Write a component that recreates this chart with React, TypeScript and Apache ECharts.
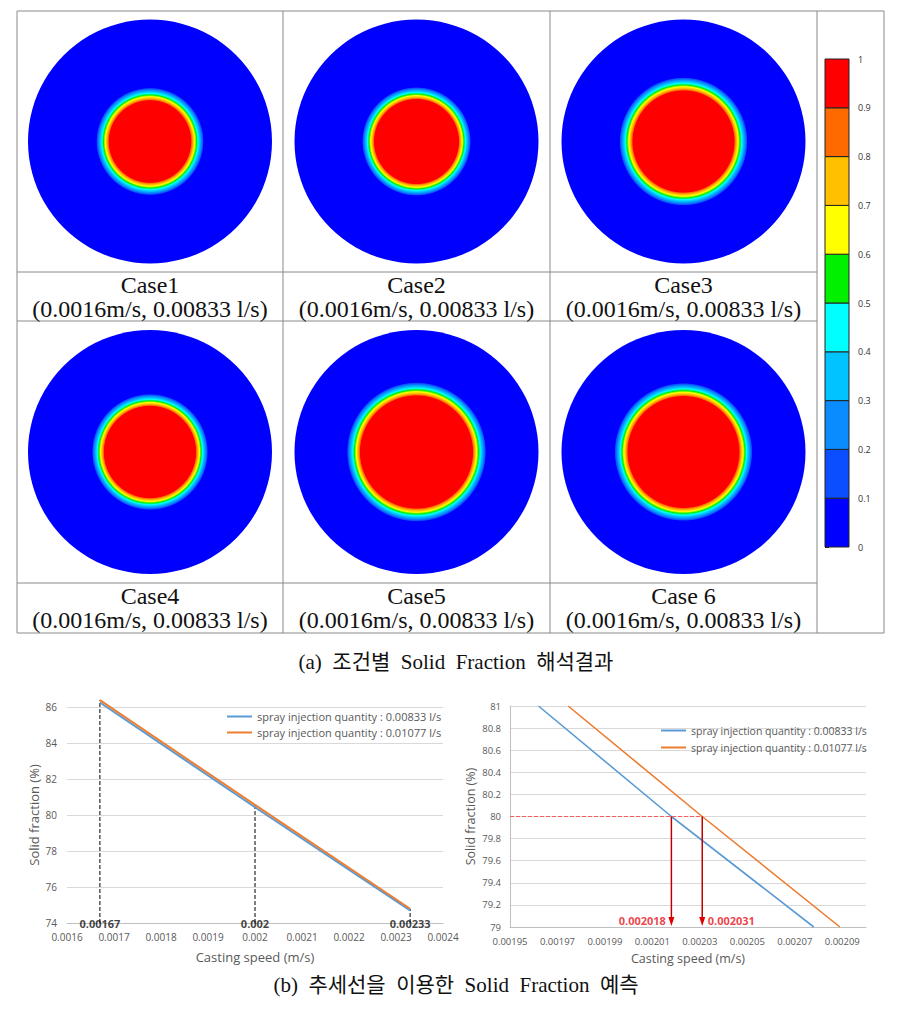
import React, { useEffect, useRef } from "react";
import * as echarts from "echarts";

// ---------- data ----------
const caseNames = ["Case1", "Case2", "Case3", "Case4", "Case5", "Case 6"];
const caseConditions = [
  "(0.0016m/s, 0.00833 l/s)",
  "(0.0016m/s, 0.00833 l/s)",
  "(0.0016m/s, 0.00833 l/s)",
  "(0.0016m/s, 0.00833 l/s)",
  "(0.0016m/s, 0.00833 l/s)",
  "(0.0016m/s, 0.00833 l/s)",
];
// radius (fraction of billet radius) of the 0.9 and 0.1 solid-fraction contours
const coreRadius = [0.335, 0.345, 0.415, 0.375, 0.46, 0.455];
const mushyOuterRadius = [0.44, 0.445, 0.525, 0.475, 0.57, 0.565];

const levelTicks = [0, 0.1, 0.2, 0.3, 0.4, 0.5, 0.6, 0.7, 0.8, 0.9, 1];
const levelColors = [
  "#0000ff", "#0a4eff", "#0a8cff", "#00c3ff", "#00ffff",
  "#00f000", "#ffff00", "#ffc000", "#ff6a00", "#ff0000",
];

const seriesNames = [
  "spray injection quantity : 0.00833 l/s",
  "spray injection quantity : 0.01077 l/s",
];

const leftSpeeds = [0.00167, 0.002, 0.00233];
const leftSF833 = [86.25, 80.43, 74.7];
const leftSF1077 = [86.38, 80.56, 74.79];
const leftMarkSpeeds = [0.00167, 0.002, 0.00233];

const rightSpeed833 = [0.001962, 0.002018, 0.002078];
const rightSF833 = [81, 80, 79];
const rightSpeed1077 = [0.0019745, 0.002031, 0.002089];
const rightSF1077 = [81, 80, 79];
const targetSF = 80;
const predictedSpeeds = [0.002018, 0.002031];

// ---------- layout ----------
const colCenters = [150, 416.5, 683.5];
const rowCenters = [141.5, 452];
const labelRowTops = [272, 583];
const R = 122;
const lineColor = "#8a8a8a";
const serif = "'Liberation Serif', 'Noto Sans CJK KR', serif";
const sans = "'Open Sans', 'Noto Sans', sans-serif";
const gray = "#595959";

function gradStops(core: number, outer: number) {
  const stops: any[] = [
    { offset: 0, color: levelColors[9] },
    { offset: core, color: levelColors[9] },
  ];
  const w = (outer - core) / 8;
  for (let k = 1; k <= 8; k++) {
    stops.push({ offset: core + w * (k - 0.5), color: levelColors[9 - k] });
  }
  stops.push({ offset: outer, color: levelColors[0] });
  stops.push({ offset: 1, color: levelColors[0] });
  return stops;
}

function buildOption() {
  const grid: any[] = [];
  const xAxis: any[] = [];
  const yAxis: any[] = [];
  const series: any[] = [];
  const graphic: any[] = [];

  // contour panels
  caseNames.forEach((_, i) => {
    const cx = colCenters[i % 3];
    const cy = rowCenters[Math.floor(i / 3)];
    grid.push({ left: cx - R, top: cy - R, width: 2 * R, height: 2 * R });
    xAxis.push({ gridIndex: i, type: "value", min: -1, max: 1, show: false });
    yAxis.push({ gridIndex: i, type: "value", min: -1, max: 1, show: false });
    series.push({
      type: "custom",
      coordinateSystem: "cartesian2d",
      xAxisIndex: i,
      yAxisIndex: i,
      silent: true,
      encode: { x: 0, y: 1 },
      data: [[0, 0, coreRadius[i], mushyOuterRadius[i]]],
      renderItem: (params: any, api: any) => {
        const c = api.coord([0, 0]);
        const s = api.size([1, 1]);
        const r = Math.min(s[0], s[1]);
        return {
          type: "circle",
          shape: { cx: c[0], cy: c[1], r },
          style: {
            fill: new echarts.graphic.RadialGradient(0.5, 0.5, 0.5, gradStops(api.value(2), api.value(3))),
          },
        };
      },
    });
  });

  // colorbar (index 6)
  grid.push({ left: 825, top: 59, width: 24, height: 488 });
  xAxis.push({ gridIndex: 6, type: "value", min: 0, max: 1, show: false });
  yAxis.push({
    gridIndex: 6,
    type: "value",
    min: 0,
    max: 1,
    interval: 0.1,
    position: "right",
    axisLine: { show: false },
    axisTick: { show: true, length: 4, lineStyle: { color: "#222" } },
    splitLine: { show: false },
    axisLabel: { fontSize: 9, color: "#333", margin: 9, fontFamily: sans },
  });
  series.push({
    type: "custom",
    coordinateSystem: "cartesian2d",
    xAxisIndex: 6,
    yAxisIndex: 6,
    silent: true,
    data: levelColors.map((_, i) => [i]),
    encode: { x: 0 },
    renderItem: (params: any, api: any) => {
      const i = api.value(0);
      const p0 = api.coord([0, levelTicks[i]]);
      const p1 = api.coord([1, levelTicks[i + 1]]);
      return {
        type: "rect",
        shape: { x: p0[0], y: p1[1], width: p1[0] - p0[0], height: p0[1] - p1[1] },
        style: { fill: levelColors[i], stroke: "#222", lineWidth: 1 },
      };
    },
  });

  // left line chart (index 7)
  grid.push({ left: 67, top: 707, width: 376, height: 216 });
  xAxis.push({
    gridIndex: 7,
    type: "value",
    min: 0.0016,
    max: 0.0024,
    interval: 0.0001,
    axisLine: { show: true, lineStyle: { color: "#bfbfbf" } },
    axisTick: { show: false },
    splitLine: { show: false },
    axisLabel: { color: gray, fontSize: 10, margin: 9, fontFamily: sans },
    name: "Casting speed (m/s)",
    nameLocation: "middle",
    nameGap: 27,
    nameTextStyle: { color: gray, fontSize: 13, fontFamily: sans },
  });
  yAxis.push({
    gridIndex: 7,
    type: "value",
    min: 74,
    max: 86,
    interval: 2,
    axisLine: { show: false },
    axisTick: { show: false },
    splitLine: { lineStyle: { color: "#d9d9d9" } },
    axisLabel: { color: gray, fontSize: 10, margin: 10, fontFamily: sans },
    name: "Solid fraction (%)",
    nameLocation: "middle",
    nameGap: 27,
    nameTextStyle: { color: gray, fontSize: 13, fontFamily: sans },
  });
  // dashed guide lines from the axis up to the trend line
  leftMarkSpeeds.forEach((x, i) => {
    series.push({
      type: "line",
      xAxisIndex: 7,
      yAxisIndex: 7,
      silent: true,
      symbol: "none",
      clip: false,
      z: 1,
      data: [[x, 74], [x, leftSF1077[i]]],
      lineStyle: { color: "#000", type: "dashed", width: 1 },
    });
  });
  series.push({
    type: "line",
    name: seriesNames[0],
    xAxisIndex: 7,
    yAxisIndex: 7,
    data: leftSpeeds.map((x, i) => [x, leftSF833[i]]),
    symbol: "none",
    clip: false,
    z: 2,
    lineStyle: { color: "#5b9bd5", width: 2 },
    itemStyle: { color: "#5b9bd5" },
  });
  series.push({
    type: "line",
    name: seriesNames[1],
    xAxisIndex: 7,
    yAxisIndex: 7,
    data: leftSpeeds.map((x, i) => [x, leftSF1077[i]]),
    symbol: "none",
    clip: false,
    z: 2,
    lineStyle: { color: "#ed7d31", width: 2 },
    itemStyle: { color: "#ed7d31" },
  });
  series.push({
    type: "scatter",
    xAxisIndex: 7,
    yAxisIndex: 7,
    silent: true,
    symbolSize: 1,
    itemStyle: { color: "rgba(0,0,0,0)" },
    z: 5,
    data: leftMarkSpeeds.map((x) => [x, 74]),
    label: {
      show: true,
      position: "inside",
      formatter: (p: any) => String(p.value[0]),
      color: "#111",
      fontWeight: "bold",
      fontSize: 11,
      fontFamily: sans,
    },
  });

  // right line chart (index 8)
  grid.push({ left: 510, top: 706, width: 356, height: 221 });
  xAxis.push({
    gridIndex: 8,
    type: "value",
    min: 0.00195,
    max: 0.0021,
    interval: 0.00002,
    axisLine: { show: true, lineStyle: { color: "#bfbfbf" } },
    axisTick: { show: false },
    splitLine: { show: false },
    axisLabel: { color: gray, fontSize: 9.5, margin: 9, fontFamily: sans, showMaxLabel: false },
    name: "Casting speed (m/s)",
    nameLocation: "middle",
    nameGap: 25,
    nameTextStyle: { color: gray, fontSize: 12.5, fontFamily: sans },
  });
  yAxis.push({
    gridIndex: 8,
    type: "value",
    min: 79,
    max: 81,
    interval: 0.2,
    axisLine: { show: true, lineStyle: { color: "#bfbfbf" } },
    axisTick: { show: false },
    splitLine: { lineStyle: { color: "#d9d9d9" } },
    axisLabel: { color: gray, fontSize: 9.5, margin: 9, fontFamily: sans },
    name: "Solid fraction (%)",
    nameLocation: "middle",
    nameGap: 33,
    nameTextStyle: { color: gray, fontSize: 12.5, fontFamily: sans },
  });
  series.push({
    type: "line",
    name: seriesNames[0],
    xAxisIndex: 8,
    yAxisIndex: 8,
    data: rightSpeed833.map((x, i) => [x, rightSF833[i]]),
    symbol: "none",
    lineStyle: { color: "#5b9bd5", width: 1.6 },
    itemStyle: { color: "#5b9bd5" },
  });
  series.push({
    type: "line",
    name: seriesNames[1],
    xAxisIndex: 8,
    yAxisIndex: 8,
    data: rightSpeed1077.map((x, i) => [x, rightSF1077[i]]),
    symbol: "none",
    lineStyle: { color: "#ed7d31", width: 1.6 },
    itemStyle: { color: "#ed7d31" },
  });
  // target line (dashed, red)
  series.push({
    type: "line",
    xAxisIndex: 8,
    yAxisIndex: 8,
    silent: true,
    symbol: "none",
    z: 3,
    data: [[0.00195, targetSF], [predictedSpeeds[1], targetSF]],
    lineStyle: { color: "#f26060", type: "dashed", width: 1 },
  });
  // arrows down to the predicted speeds
  series.push({
    type: "custom",
    coordinateSystem: "cartesian2d",
    xAxisIndex: 8,
    yAxisIndex: 8,
    silent: true,
    z: 4,
    encode: { x: 0, y: 1 },
    data: predictedSpeeds.map((x) => [x, targetSF, 79]),
    renderItem: (params: any, api: any) => {
      const top = api.coord([api.value(0), api.value(1)]);
      const tip = api.coord([api.value(0), api.value(2)]);
      return {
        type: "group",
        children: [
          {
            type: "line",
            shape: { x1: top[0], y1: top[1], x2: tip[0], y2: tip[1] - 6 },
            style: { stroke: "#c00000", lineWidth: 1.5 },
          },
          {
            type: "polygon",
            shape: { points: [[tip[0] - 3, tip[1] - 10], [tip[0] + 3, tip[1] - 10], [tip[0], tip[1] - 1]] },
            style: { fill: "#e00000" },
          },
        ],
      };
    },
  });
  series.push({
    type: "scatter",
    xAxisIndex: 8,
    yAxisIndex: 8,
    silent: true,
    symbolSize: 1,
    itemStyle: { color: "rgba(0,0,0,0)" },
    z: 5,
    data: predictedSpeeds.map((x, i) => ({
      value: [x, 79],
      label: { position: i === 0 ? "left" : "right" },
    })),
    label: {
      show: true,
      distance: 5,
      offset: [0, -7],
      formatter: (p: any) => String(p.value[0]),
      color: "#e8101a",
      fontWeight: "bold",
      fontSize: 11,
      fontFamily: sans,
    },
  });

  // legends
  const legendBase = {
    icon: "rect",
    itemWidth: 25,
    itemHeight: 2,
    padding: 0,
    selectedMode: false,
    textStyle: { color: gray, fontFamily: sans },
  };
  const legend = [
    { ...legendBase, left: 227, top: 711, data: [seriesNames[0]], textStyle: { ...legendBase.textStyle, fontSize: 11 } },
    { ...legendBase, left: 227, top: 727, data: [seriesNames[1]], textStyle: { ...legendBase.textStyle, fontSize: 11 } },
    { ...legendBase, left: 661, top: 725, data: [seriesNames[0]], textStyle: { ...legendBase.textStyle, fontSize: 10.5 } },
    { ...legendBase, left: 661, top: 742, data: [seriesNames[1]], textStyle: { ...legendBase.textStyle, fontSize: 10.5 } },
  ];

  // table frame
  const ls = { stroke: lineColor, lineWidth: 1 };
  graphic.push({ type: "rect", shape: { x: 17, y: 11, width: 867, height: 622 }, style: { ...ls, fill: "none" }, silent: true });
  [283, 550, 817].forEach((x) =>
    graphic.push({ type: "line", shape: { x1: x, y1: 11, x2: x, y2: 633 }, style: ls, silent: true })
  );
  [272, 321, 583].forEach((y) =>
    graphic.push({ type: "line", shape: { x1: 17, y1: y, x2: 817, y2: y }, style: ls, silent: true })
  );
  caseNames.forEach((name, i) => {
    const cx = colCenters[i % 3];
    const top = labelRowTops[Math.floor(i / 3)];
    [name, caseConditions[i]].forEach((t, j) =>
      graphic.push({
        type: "text",
        silent: true,
        style: {
          text: t,
          x: cx,
          y: top + 12.5 + j * 24,
          fill: "#111",
          font: `24px ${serif}`,
          align: "center",
          verticalAlign: "middle",
          textAlign: "center",
          textVerticalAlign: "middle",
        },
      })
    );
  });
  const captions: [string, number][] = [
    ["(a)  조건별  Solid  Fraction  해석결과", 662],
    ["(b)  추세선을  이용한  Solid  Fraction  예측", 985],
  ];
  captions.forEach(([t, y]) =>
    graphic.push({
      type: "text",
      silent: true,
      style: {
        text: t,
        x: 456,
        y,
        fill: "#111",
        font: `21px ${serif}`,
        align: "center",
        verticalAlign: "middle",
        textAlign: "center",
        textVerticalAlign: "middle",
      },
    })
  );

  return {
    animation: false,
    backgroundColor: "#fff",
    grid,
    xAxis,
    yAxis,
    series,
    legend,
    graphic,
  };
}

export default function App() {
  const ref = useRef<HTMLDivElement>(null);
  useEffect(() => {
    document.body.style.margin = "0";
    document.body.style.overflow = "hidden";
    const chart = echarts.init(ref.current!, undefined, { renderer: "svg" });
    chart.setOption(buildOption() as any);
    return () => chart.dispose();
  }, []);
  return <div ref={ref} style={{ width: 910, height: 1013 }} />;
}
